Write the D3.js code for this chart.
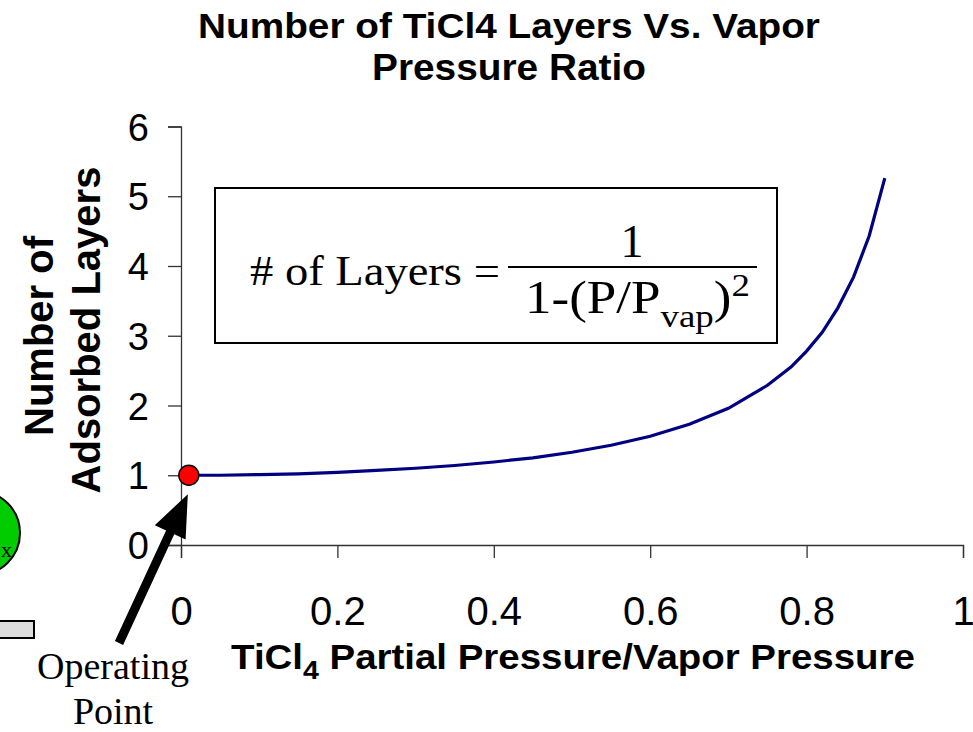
<!DOCTYPE html>
<meta charset="utf-8">
<style>
body { margin: 0; background: #fff; }
svg { display: block; }
.sans { font-family: "Liberation Sans", Arial, sans-serif; }
.serif { font-family: "Liberation Serif", "Times New Roman", serif; }
</style>
<body>
<script src="https://d3js.org/d3.v7.min.js"></script>
<script>
'use strict';

// values
const pressureRatio = [0, 0.05, 0.10, 0.15, 0.20, 0.25, 0.30, 0.35, 0.40, 0.45, 0.50,
                       0.55, 0.60, 0.65, 0.70, 0.75, 0.78, 0.80, 0.82, 0.84, 0.86, 0.88, 0.90];
const layers = [1.00, 1.00, 1.01, 1.02, 1.04, 1.07, 1.10, 1.14, 1.19, 1.25, 1.33,
                1.43, 1.56, 1.73, 1.96, 2.29, 2.55, 2.78, 3.05, 3.40, 3.84, 4.43, 5.26];
const operatingPoint = [0.01, 1];
const xTicks = [0, 0.2, 0.4, 0.6, 0.8, 1];
const yTicks = [0, 1, 2, 3, 4, 5, 6];
const titleLines = ["Number of TiCl4 Layers Vs. Vapor", "Pressure Ratio"];
const yTitleLines = ["Number of", "Adsorbed Layers"];

const width = 973, height = 732;
const plot = {left: 181, right: 963, top: 126.5, bottom: 545};

const x = d3.scaleLinear().domain([0, 1]).range([plot.left, plot.right]);
const y = d3.scaleLinear().domain([0, 6]).range([plot.bottom, plot.top]);

const svg = d3.select("body").append("svg")
    .attr("width", width)
    .attr("height", height);

// stretch a text horizontally around its anchor so it covers the given width
function fitX(sel, target, cx) {
  const w = sel.node().getBBox().width;
  const k = target / w;
  sel.attr("transform", `translate(${cx},0) scale(${k},1) translate(${-cx},0)`);
}

// left edge decorations (cut off in the original slide)
svg.append("circle")
    .attr("cx", -22).attr("cy", 533).attr("r", 42)
    .attr("fill", "#00cc00").attr("stroke", "#000").attr("stroke-width", 2);
svg.append("text").attr("class", "serif")
    .attr("x", 1).attr("y", 557).attr("font-size", 22).text("x");
svg.append("rect")
    .attr("x", -5).attr("y", 621).attr("width", 39).attr("height", 17)
    .attr("fill", "#dddddd").attr("stroke", "#000").attr("stroke-width", 2);

// title
titleLines.forEach((t, i) => {
  const el = svg.append("text").attr("class", "sans")
      .attr("x", 509).attr("y", [38, 80][i])
      .attr("text-anchor", "middle")
      .attr("font-size", 36).attr("font-weight", "bold")
      .text(t);
  fitX(el, [622, 274][i], 509);
});

// axes
const xAxis = svg.append("g")
    .attr("transform", `translate(0,${plot.bottom})`)
    .call(d3.axisBottom(x).tickValues(xTicks).tickSize(13).tickFormat(d3.format("")));
xAxis.select(".domain").attr("stroke", "#333").attr("stroke-width", 1.3);
xAxis.selectAll(".tick line").attr("stroke", "#333").attr("stroke-width", 1.3);
xAxis.selectAll(".tick text")
    .attr("class", "sans").attr("font-size", 40).attr("fill", "#000")
    .attr("dy", null).attr("y", 80);

const yAxis = svg.append("g")
    .attr("transform", `translate(${plot.left},0)`)
    .call(d3.axisLeft(y).tickValues(yTicks).tickSize(13).tickFormat(d3.format("d")));
yAxis.select(".domain").attr("stroke", "#333").attr("stroke-width", 1.3);
yAxis.selectAll(".tick line").attr("stroke", "#333").attr("stroke-width", 1.3);
yAxis.selectAll(".tick text")
    .attr("class", "sans").attr("font-size", 38).attr("fill", "#000")
    .attr("x", -32).attr("dy", "0.36em");

// axis titles
yTitleLines.forEach((t, i) => {
  svg.append("text").attr("class", "sans")
      .attr("transform", `translate(${[53, 100][i]},${[336, 330][i]}) rotate(-90)`)
      .attr("text-anchor", "middle")
      .attr("font-size", 40).attr("font-weight", "bold")
      .text(t);
});

const xTitle = svg.append("text").attr("class", "sans")
    .attr("x", 573).attr("y", 669)
    .attr("text-anchor", "middle")
    .attr("font-size", 35).attr("font-weight", "bold");
xTitle.append("tspan").text("TiCl");
xTitle.append("tspan").attr("font-size", 26).attr("dy", 10).text("4");
xTitle.append("tspan").attr("dy", -10).text(" Partial Pressure/Vapor Pressure");
fitX(xTitle, 684, 573);

// formula box
svg.append("rect")
    .attr("x", 215).attr("y", 188).attr("width", 562).attr("height", 155)
    .attr("fill", "#fff").attr("stroke", "#000").attr("stroke-width", 2);
const lhs = svg.append("text").attr("class", "serif")
    .attr("x", 250).attr("y", 285).attr("font-size", 42)
    .text("# of Layers =");
fitX(lhs, 250, 250);
svg.append("line")
    .attr("x1", 508).attr("x2", 757).attr("y1", 267).attr("y2", 267)
    .attr("stroke", "#000").attr("stroke-width", 2);
svg.append("text").attr("class", "serif")
    .attr("x", 632).attr("y", 257).attr("text-anchor", "middle").attr("font-size", 46)
    .text("1");
const den = svg.append("text").attr("class", "serif")
    .attr("x", 525).attr("y", 313).attr("font-size", 46);
den.append("tspan").text("1-(P/P");
den.append("tspan").attr("font-size", 32).attr("dy", 14).text("vap");
den.append("tspan").attr("dy", -14).text(")");
den.append("tspan").attr("font-size", 32).attr("dy", -17).text("2");
fitX(den, 225, 525);

// curve
const line = d3.line()
    .x((d, i) => x(pressureRatio[i]))
    .y(d => y(d));
svg.append("path")
    .datum(layers)
    .attr("fill", "none")
    .attr("stroke", "#000080")
    .attr("stroke-width", 3.2)
    .attr("d", line);

// operating point and arrow
const px = x(operatingPoint[0]), py = y(operatingPoint[1]);
const tip = [px - 1, py + 19], tail = [119, 643];
const ang = Math.atan2(tip[1] - tail[1], tip[0] - tail[0]);
const headLen = 42, headHalf = 17, shaftHalf = 4.5;
const ux = Math.cos(ang), uy = Math.sin(ang), nx = -uy, ny = ux;
const base = [tip[0] - ux * headLen, tip[1] - uy * headLen];
const arrowPts = [
  [tail[0] + nx * shaftHalf, tail[1] + ny * shaftHalf],
  [base[0] + nx * shaftHalf, base[1] + ny * shaftHalf],
  [base[0] + nx * headHalf, base[1] + ny * headHalf],
  tip,
  [base[0] - nx * headHalf, base[1] - ny * headHalf],
  [base[0] - nx * shaftHalf, base[1] - ny * shaftHalf],
  [tail[0] - nx * shaftHalf, tail[1] - ny * shaftHalf]
];
svg.append("path")
    .attr("d", "M" + arrowPts.map(p => p.join(",")).join("L") + "Z")
    .attr("fill", "#000");

svg.append("circle")
    .attr("cx", px).attr("cy", py).attr("r", 10)
    .attr("fill", "#ff0000").attr("stroke", "#000").attr("stroke-width", 1.5);

[["Operating", 679], ["Point", 724]].forEach(([t, yy]) => {
  svg.append("text").attr("class", "serif")
      .attr("x", 113).attr("y", yy).attr("text-anchor", "middle")
      .attr("font-size", 38)
      .text(t);
});
</script>
</body>
